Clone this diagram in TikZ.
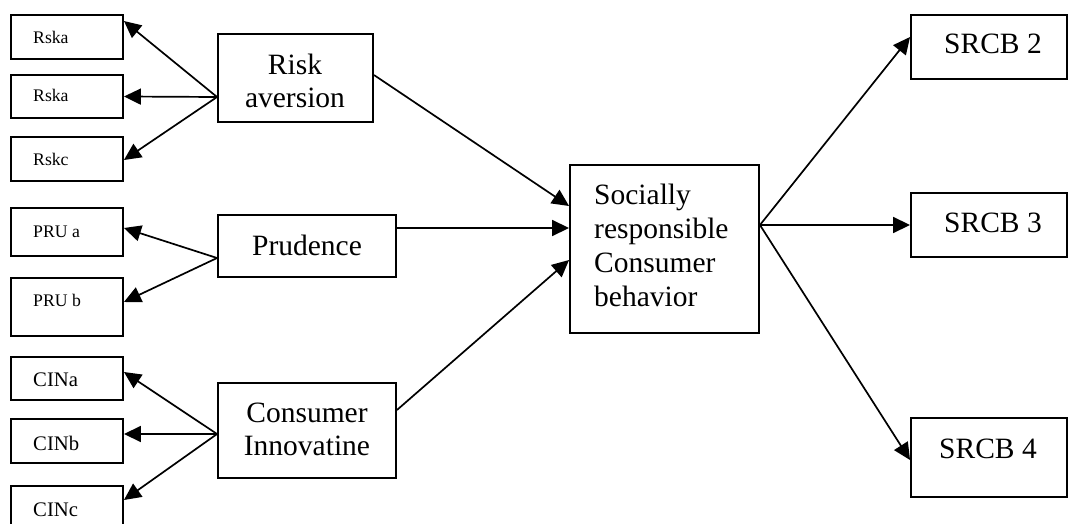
\documentclass[tikz,border=0pt]{standalone}
\usepackage{fontspec}
\setmainfont{Liberation Serif}
\usetikzlibrary{arrows.meta}
\begin{document}
\begin{tikzpicture}[x=1pt,y=-1pt,
  box/.style={draw, line width=1.9pt, inner sep=0pt},
  arr/.style={line width=1.7pt, -{Triangle[length=17pt,width=16pt]}},
  smalltxt/.style={font=\fontsize{17.7}{20}\selectfont, anchor=base west, inner sep=0pt},
  cintxt/.style={font=\fontsize{20.7}{23}\selectfont, anchor=base west, inner sep=0pt},
  bigtxt/.style={font=\fontsize{29.5}{33}\selectfont, anchor=base, inner sep=0pt},
  srtxt/.style={font=\fontsize{29.5}{34.3}\selectfont, anchor=base west, inner sep=0pt}]
\useasboundingbox (0,0) rectangle (1068,524);
% small boxes
\node[box, minimum width=112pt, minimum height=44pt] (r1) at (67,37) {};
\node[box, minimum width=112pt, minimum height=43pt] (r2) at (67,96.5) {};
\node[box, minimum width=112pt, minimum height=44pt] (r3) at (67,159) {};
\node[box, minimum width=112pt, minimum height=48pt] (p1) at (67,232) {};
\node[box, minimum width=112pt, minimum height=58pt] (p2) at (67,307) {};
\node[box, minimum width=112pt, minimum height=43pt] (c1) at (67,378.5) {};
\node[box, minimum width=112pt, minimum height=44pt] (c2) at (67,441) {};
\node[box, minimum width=112pt, minimum height=54pt] (c3) at (67,513) {};
\node[smalltxt] (tr1) at (33,43.3) {Rska};
\node[smalltxt] (tr2) at (33,101.7) {Rska};
\node[smalltxt] (tr3) at (33,165.7) {Rskc};
\node[smalltxt] (tp1) at (33,237.7) {PRU a};
\node[smalltxt] (tp2) at (33,306.7) {PRU b};
\node[cintxt] (tc1) at (33,386.7) {CINa};
\node[cintxt] (tc2) at (33,450.7) {CINb};
\node[cintxt] (tc3) at (33,516.7) {CINc};
% main boxes
\node[box, minimum width=155pt, minimum height=88pt] (ra) at (295.5,78) {};
\node[box, minimum width=178pt, minimum height=62pt] (pr) at (307,246) {};
\node[box, minimum width=178pt, minimum height=95pt] (ci) at (307,430.5) {};
\node[box, minimum width=189pt, minimum height=168pt] (sr) at (664.5,249) {};
\node[box, minimum width=156pt, minimum height=64pt] (s2) at (989,47) {};
\node[box, minimum width=156pt, minimum height=64pt] (s3) at (989,225) {};
\node[box, minimum width=156pt, minimum height=79pt] (s4) at (989,457.5) {};
\node[bigtxt] (tra) at (295,75) {\begin{tabular}[t]{@{}c@{}}Risk\\aversion\end{tabular}};
\node[bigtxt] (tpr) at (307,255) {Prudence};
\node[bigtxt] (tci) at (307,422) {\begin{tabular}[t]{@{}c@{}}Consumer\\Innovatine\end{tabular}};
\node[srtxt] (tsr) at (594,204) {\begin{tabular}[t]{@{}l@{}}Socially\\responsible\\Consumer\\behavior\end{tabular}};
\node[bigtxt] (ts2) at (993,54) {SRCB 2};
\node[bigtxt] (ts3) at (993,232) {SRCB 3};
\node[bigtxt] (ts4) at (988,458) {SRCB 4};
% connectors
\draw[arr] (ra.west |- 0,97) -- (r1.east |- 0,21);
\draw[arr] (ra.west |- 0,97) -- (r2.east |- 0,96.5);
\draw[arr] (ra.west |- 0,97) -- (r3.east |- 0,160);
\draw[arr] (pr.west |- 0,258) -- (p1.east |- 0,228);
\draw[arr] (pr.west |- 0,258) -- (p2.east |- 0,302);
\draw[arr] (ci.west |- 0,434) -- (c1.east |- 0,372);
\draw[arr] (ci.west |- 0,434) -- (c2.east |- 0,434);
\draw[arr] (ci.west |- 0,434) -- (c3.east |- 0,500);
\draw[arr] (ra.east |- 0,75) -- (sr.west |- 0,206);
\draw[arr] (pr.east |- 0,228) -- (sr.west |- 0,228);
\draw[arr] (ci.east |- 0,410) -- (sr.west |- 0,260);
\draw[arr] (sr.east |- 0,225) -- (s2.west |- 0,37);
\draw[arr] (sr.east |- 0,225) -- (s3.west |- 0,225);
\draw[arr] (sr.east |- 0,225) -- (s4.west |- 0,460);
\end{tikzpicture}
\end{document}
